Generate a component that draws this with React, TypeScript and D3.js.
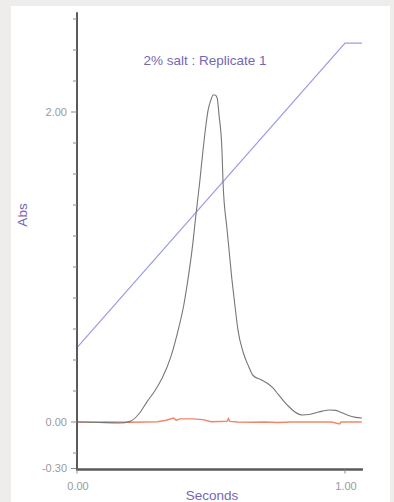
import React from "react";
import * as d3 from "d3";

const title = "2% salt : Replicate 1";
const xLabel = "Seconds";
const yLabel = "Abs";

const yTickValues = [-0.3, 0.0, 2.0];
const yMinorTicks = [-0.2, 0.2, 0.4, 0.6, 0.8, 1.0, 1.2, 1.4, 1.6, 1.8, 2.2, 2.4, 2.6];
const xTickValues = [0.0, 1.0];

// absorbance trace (black)
const absX = [0, 0.08, 0.16, 0.198, 0.23, 0.261, 0.29, 0.317, 0.35, 0.377, 0.398, 0.414, 0.43, 0.444, 0.458, 0.47, 0.48, 0.489, 0.5, 0.508, 0.515, 0.523, 0.53, 0.541, 0.545, 0.56, 0.578, 0.59, 0.601, 0.62, 0.64, 0.657, 0.69, 0.71, 0.731, 0.75, 0.769, 0.79, 0.813, 0.843, 0.865, 0.888, 0.915, 0.944, 0.965, 0.981, 1.0, 1.019, 1.04, 1.063];
const absY = [0, -0.003, -0.006, 0.004, 0.05, 0.13, 0.2, 0.28, 0.42, 0.59, 0.75, 0.92, 1.12, 1.34, 1.55, 1.75, 1.9, 2.01, 2.08, 2.11, 2.11, 2.09, 1.98, 1.75, 1.54, 1.24, 0.92, 0.74, 0.59, 0.45, 0.36, 0.3, 0.27, 0.25, 0.22, 0.18, 0.14, 0.1, 0.065, 0.045, 0.048, 0.058, 0.07, 0.077, 0.075, 0.065, 0.052, 0.039, 0.03, 0.026];

// conductivity / gradient trace (blue)
const gradX = [0, 1.0, 1.063];
const gradY = [0.48, 2.445, 2.445];

// baseline trace (orange)
const baseX = [0, 0.1, 0.2, 0.3, 0.33, 0.36, 0.37, 0.385, 0.4, 0.43, 0.47, 0.5, 0.53, 0.56, 0.565, 0.57, 0.6, 0.65, 0.7, 0.75, 0.8, 0.85, 0.9, 0.95, 0.98, 0.985, 1.0, 1.063];
const baseY = [0, 0.0, -0.002, 0.002, 0.01, 0.025, 0.012, 0.02, 0.02, 0.02, 0.015, 0.002, 0.003, 0.005, 0.022, 0.004, 0.0, -0.002, 0.0, -0.003, 0.0, 0.0, 0.0, 0.0, -0.012, 0.0, 0.0, 0.0];

const W = 394;
const H = 502;

const fmt = (v: number) => d3.format(".2f")(v).replace("\u2212", "-");

export default function App() {
  const x = d3.scaleLinear().domain([0, 1]).range([77, 345]);
  const y = d3.scaleLinear().domain([0, 2]).range([422, 112]);
  const xEnd = 1.067;
  const yTop = 2.63;
  const yBot = -0.3;

  const line = d3
    .line<[number, number]>()
    .x((d) => x(d[0]))
    .y((d) => y(d[1]));
  const smooth = d3
    .line<[number, number]>()
    .x((d) => x(d[0]))
    .y((d) => y(d[1]))
    .curve(d3.curveMonotoneX);

  const absPts = absX.map((v, i) => [v, absY[i]] as [number, number]);
  const gradPts = gradX.map((v, i) => [v, gradY[i]] as [number, number]);
  const basePts = baseX.map((v, i) => [v, baseY[i]] as [number, number]);

  const axisColor = "#5a5a5a";
  const tickText = "#9a9a9a";
  const purple = "#7566b5";
  const font = "Liberation Sans, Arial, sans-serif";

  return (
    <svg
      width={W}
      height={H}
      style={{ position: "absolute", left: 0, top: 0 }}
      xmlns="http://www.w3.org/2000/svg"
    >
      <rect x={0} y={0} width={W} height={H} fill="#efedeb" />
      <rect x={11} y={6} width={379} height={H - 6} fill="#ffffff" />

      {/* traces */}
      <path d={line(gradPts) || ""} fill="none" stroke="#9d9be6" strokeWidth={1.2} />
      <path d={line(basePts) || ""} fill="none" stroke="#f2866a" strokeWidth={1.4} />
      <path d={smooth(absPts) || ""} fill="none" stroke="#777777" strokeWidth={1.1} />

      {/* y axis */}
      <line x1={x(0)} x2={x(0)} y1={y(yTop) - 2} y2={y(yBot) + 1} stroke={axisColor} strokeWidth={2} />
      {yMinorTicks.map((t) => (
        <line key={"m" + t} x1={x(0) - 4} x2={x(0)} y1={y(t)} y2={y(t)} stroke="#8a8a8a" strokeWidth={1} />
      ))}
      {yTickValues.map((t) => (
        <g key={"y" + t}>
          <line x1={x(0) - 6} x2={x(0)} y1={y(t)} y2={y(t)} stroke="#8a8a8a" strokeWidth={1} />
          <text
            x={x(0) - 10}
            y={y(t)}
            dy="0.35em"
            textAnchor="end"
            fontSize={11}
            fontFamily={font}
            fill={tickText}
          >
            {fmt(t)}
          </text>
        </g>
      ))}

      {/* x axis */}
      <line x1={x(0) - 1} x2={x(xEnd)} y1={y(yBot) + 1} y2={y(yBot) + 1} stroke={axisColor} strokeWidth={2.4} />
      {xTickValues.map((t) => (
        <g key={"x" + t}>
          <line x1={x(t)} x2={x(t)} y1={y(yBot) + 1} y2={y(yBot) + 5} stroke="#8a8a8a" strokeWidth={1} />
          <text
            x={x(t) + 1}
            y={y(yBot) + 21}
            textAnchor="middle"
            fontSize={11}
            fontFamily={font}
            fill={tickText}
          >
            {fmt(t)}
          </text>
        </g>
      ))}

      {/* labels */}
      <text x={205} y={65} textAnchor="middle" fontSize={13.5} fontFamily={font} fill={purple}>
        {title}
      </text>
      <text x={212} y={500} textAnchor="middle" fontSize={13.5} fontFamily={font} fill={purple}>
        {xLabel}
      </text>
      <text
        transform="translate(27,215) rotate(-90)"
        textAnchor="middle"
        fontSize={13.5}
        fontFamily={font}
        fill={purple}
      >
        {yLabel}
      </text>
    </svg>
  );
}
